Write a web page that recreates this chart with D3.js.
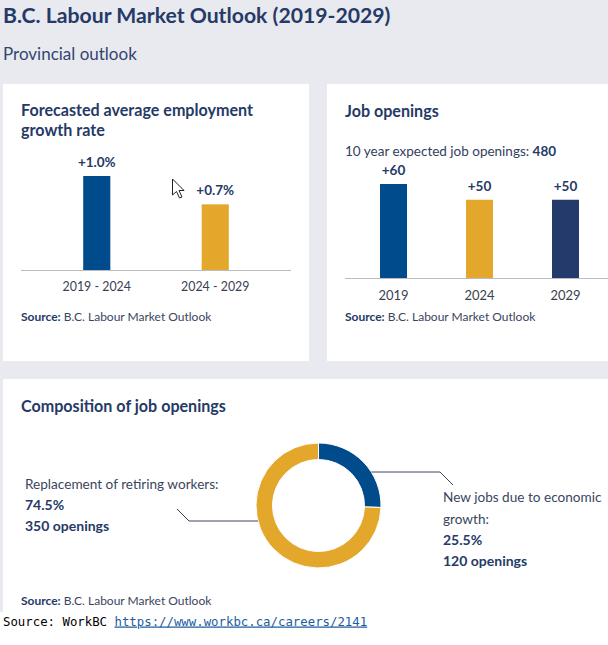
<!DOCTYPE html>
<html><head><meta charset="utf-8">
<script src="https://cdn.jsdelivr.net/npm/d3@7"></script>
<style>
html,body{margin:0;padding:0;background:#fff;}
svg{display:block;}
</style></head>
<body>
<svg id="chart" width="608" height="645"></svg>
<script>
// ---------- data ----------
const growthPeriods = ["2019 - 2024", "2024 - 2029"];
const growthRates = [1.0, 0.7];
const growthLabels = ["+1.0%", "+0.7%"];

const openingYears = ["2019", "2024", "2029"];
const openingValues = [60, 50, 50];
const openingLabels = ["+60", "+50", "+50"];
const totalOpenings = 480;

const compositionKeys = ["new", "replacement"];
const compositionShares = [25.5, 74.5];
const compositionOpenings = [120, 350];

// ---------- style ----------
const NAVY = "#253a66", GREY_BG = "#e9eaf0";
const BLUE = "#004b8c", GOLD = "#e3a82b", DARK = "#233a6a";
const FONT = "Lato, 'Noto Sans', sans-serif";

const svg = d3.select("#chart").style("font-family", FONT);

// page background
svg.append("rect").attr("x", 0).attr("y", 0).attr("width", 608).attr("height", 612).attr("fill", GREY_BG);
svg.append("rect").attr("x", 0).attr("y", 612).attr("width", 608).attr("height", 33).attr("fill", "#fff");

// header
svg.append("text").attr("x", 3).attr("y", 23).attr("fill", NAVY)
  .attr("font-size", 21.2).attr("font-weight", 700).text("B.C. Labour Market Outlook (2019-2029)");
svg.append("text").attr("x", 3).attr("y", 60).attr("fill", "#33456d")
  .attr("font-size", 17).text("Provincial outlook");

// cards
svg.append("rect").attr("x", 3).attr("y", 84).attr("width", 306).attr("height", 277).attr("fill", "#fff");
svg.append("rect").attr("x", 327).attr("y", 84).attr("width", 300).attr("height", 277).attr("fill", "#fff");
svg.append("rect").attr("x", 3).attr("y", 379).attr("width", 620).attr("height", 234).attr("fill", "#fff");

function source(g, x, y) {
  const t = g.append("text").attr("x", x).attr("y", y).attr("font-size", 12).attr("fill", "#3b4560");
  t.append("tspan").attr("font-weight", 700).attr("fill", NAVY).text("Source:");
  t.append("tspan").text(" B.C. Labour Market Outlook");
}

// ---------- panel 1: growth rate ----------
{
  const g = svg.append("g");
  g.append("text").attr("x", 21).attr("y", 116).attr("fill", NAVY).attr("font-size", 16.1).attr("font-weight", 700)
    .text("Forecasted average employment");
  g.append("text").attr("x", 21).attr("y", 135.5).attr("fill", NAVY).attr("font-size", 16.1).attr("font-weight", 700)
    .text("growth rate");

  const x = d3.scaleBand().domain(growthPeriods).range([21, 291]).paddingInner(0.771).paddingOuter(0.525);
  const y = d3.scaleLinear().domain([0, 1.0]).range([270.5, 176]);
  const colors = [BLUE, GOLD];

  g.selectAll("rect.bar").data(growthRates).join("rect").attr("class", "bar")
    .attr("x", (d, i) => x(growthPeriods[i])).attr("width", x.bandwidth())
    .attr("y", d => y(d)).attr("height", d => y(0) - y(d)).attr("fill", (d, i) => colors[i]);

  g.selectAll("text.val").data(growthRates).join("text").attr("class", "val")
    .attr("x", (d, i) => x(growthPeriods[i]) + x.bandwidth() / 2).attr("y", d => y(d) - 9.5)
    .attr("text-anchor", "middle").attr("font-size", 13.5).attr("font-weight", 700).attr("fill", NAVY)
    .text((d, i) => growthLabels[i]);

  const ax = g.append("g").attr("transform", `translate(0,${y(0)})`)
    .call(d3.axisBottom(x).tickSize(0).tickPadding(12));
  ax.select(".domain").attr("stroke", "#b9bcc4").attr("d", "M21,0H291");
  ax.selectAll("text").attr("font-family", FONT).attr("font-size", 12.4).attr("fill", "#3a3f52");

  source(g, 21, 320.5);

  // mouse pointer in the screenshot
  g.append("path").attr("transform", "translate(172.5,179)")
    .attr("d", "M0,0V16L4,12.5L7,19L9.5,18L6.5,11.5H11.5Z")
    .attr("fill", "#fff").attr("stroke", "#222").attr("stroke-width", 1).attr("stroke-linejoin", "round");
}

// ---------- panel 2: job openings ----------
{
  const g = svg.append("g");
  g.append("text").attr("x", 345).attr("y", 117).attr("fill", NAVY).attr("font-size", 16.1).attr("font-weight", 700)
    .text("Job openings");
  const t = g.append("text").attr("x", 345).attr("y", 156).attr("fill", "#33405e").attr("font-size", 13.5);
  t.append("tspan").text("10 year expected job openings: ");
  t.append("tspan").attr("font-weight", 700).attr("fill", NAVY).text(totalOpenings);

  const x = d3.scaleBand().domain(openingYears).range([345, 614]).paddingInner(0.686).paddingOuter(0.407);
  const y = d3.scaleLinear().domain([0, 60]).range([278.5, 184]);
  const colors = [BLUE, GOLD, DARK];

  g.selectAll("rect.bar").data(openingValues).join("rect").attr("class", "bar")
    .attr("x", (d, i) => x(openingYears[i])).attr("width", x.bandwidth())
    .attr("y", d => y(d)).attr("height", d => y(0) - y(d)).attr("fill", (d, i) => colors[i]);

  g.selectAll("text.val").data(openingValues).join("text").attr("class", "val")
    .attr("x", (d, i) => x(openingYears[i]) + x.bandwidth() / 2).attr("y", d => y(d) - 9)
    .attr("text-anchor", "middle").attr("font-size", 13.5).attr("font-weight", 700).attr("fill", NAVY)
    .text((d, i) => openingLabels[i]);

  const ax = g.append("g").attr("transform", `translate(0,${y(0)})`)
    .call(d3.axisBottom(x).tickSize(0).tickPadding(12));
  ax.select(".domain").attr("stroke", "#b9bcc4").attr("d", "M345,0H614");
  ax.selectAll("text").attr("font-family", FONT).attr("font-size", 13).attr("fill", "#3a3f52");

  source(g, 345, 320.5);
}

// ---------- panel 3: composition donut ----------
{
  const g = svg.append("g");
  g.append("text").attr("x", 21).attr("y", 412).attr("fill", NAVY).attr("font-size", 16.1).attr("font-weight", 700)
    .text("Composition of job openings");

  const cx = 318.5, cy = 505.5, outerR = 62.5, innerR = 46;
  const pie = d3.pie().sort(null).value(d => d)(compositionShares);
  const arc = d3.arc().innerRadius(innerR).outerRadius(outerR);
  const colors = [BLUE, GOLD];
  const dg = g.append("g").attr("transform", `translate(${cx},${cy})`);
  dg.selectAll("path").data(pie).join("path").attr("d", arc)
    .attr("fill", (d, i) => colors[i]).attr("stroke", "#fff").attr("stroke-width", 1);

  // leader lines
  const line = d3.line();
  dg.append("path").attr("d", line([[52.8, -33.5], [121.5, -33.5], [134.5, -20.5]]))
    .attr("fill", "none").attr("stroke", "#3a4660").attr("stroke-width", 1);
  dg.append("path").attr("d", line([[-141.5, 3.5], [-129.5, 15.5], [-60.5, 15.5]]))
    .attr("fill", "none").attr("stroke", "#3a4660").attr("stroke-width", 1);

  // left label (replacement)
  const lt = g.append("g").attr("font-size", 13.6);
  lt.append("text").attr("x", 25).attr("y", 489).attr("fill", "#3b4560").text("Replacement of retiring workers:");
  lt.append("text").attr("x", 25).attr("y", 509.5).attr("fill", NAVY).attr("font-weight", 700).attr("font-size", 14)
    .text(compositionShares[1].toFixed(1) + "%");
  lt.append("text").attr("x", 25).attr("y", 530.5).attr("fill", NAVY).attr("font-weight", 700).attr("font-size", 14)
    .text(compositionOpenings[1] + " openings");

  // right label (new jobs)
  const rt = g.append("g").attr("font-size", 13.6);
  rt.append("text").attr("x", 443).attr("y", 502).attr("fill", "#3b4560").text("New jobs due to economic");
  rt.append("text").attr("x", 443).attr("y", 523.5).attr("fill", "#3b4560").text("growth:");
  rt.append("text").attr("x", 443).attr("y", 545).attr("fill", NAVY).attr("font-weight", 700).attr("font-size", 14)
    .text(compositionShares[0].toFixed(1) + "%");
  rt.append("text").attr("x", 443).attr("y", 566).attr("fill", NAVY).attr("font-weight", 700).attr("font-size", 14)
    .text(compositionOpenings[0] + " openings");

  source(g, 21, 605);
}

// ---------- footer ----------
{
  const t = svg.append("text").attr("x", 3).attr("y", 625.5)
    .attr("font-family", "'DejaVu Sans Mono', 'Liberation Mono', monospace").attr("font-size", 12.35).attr("fill", "#000");
  t.append("tspan").text("Source: WorkBC ");
  t.append("tspan").attr("fill", "#1d5c9e").attr("text-decoration", "underline").text("https://www.workbc.ca/careers/2141");
}
</script>
</body></html>
